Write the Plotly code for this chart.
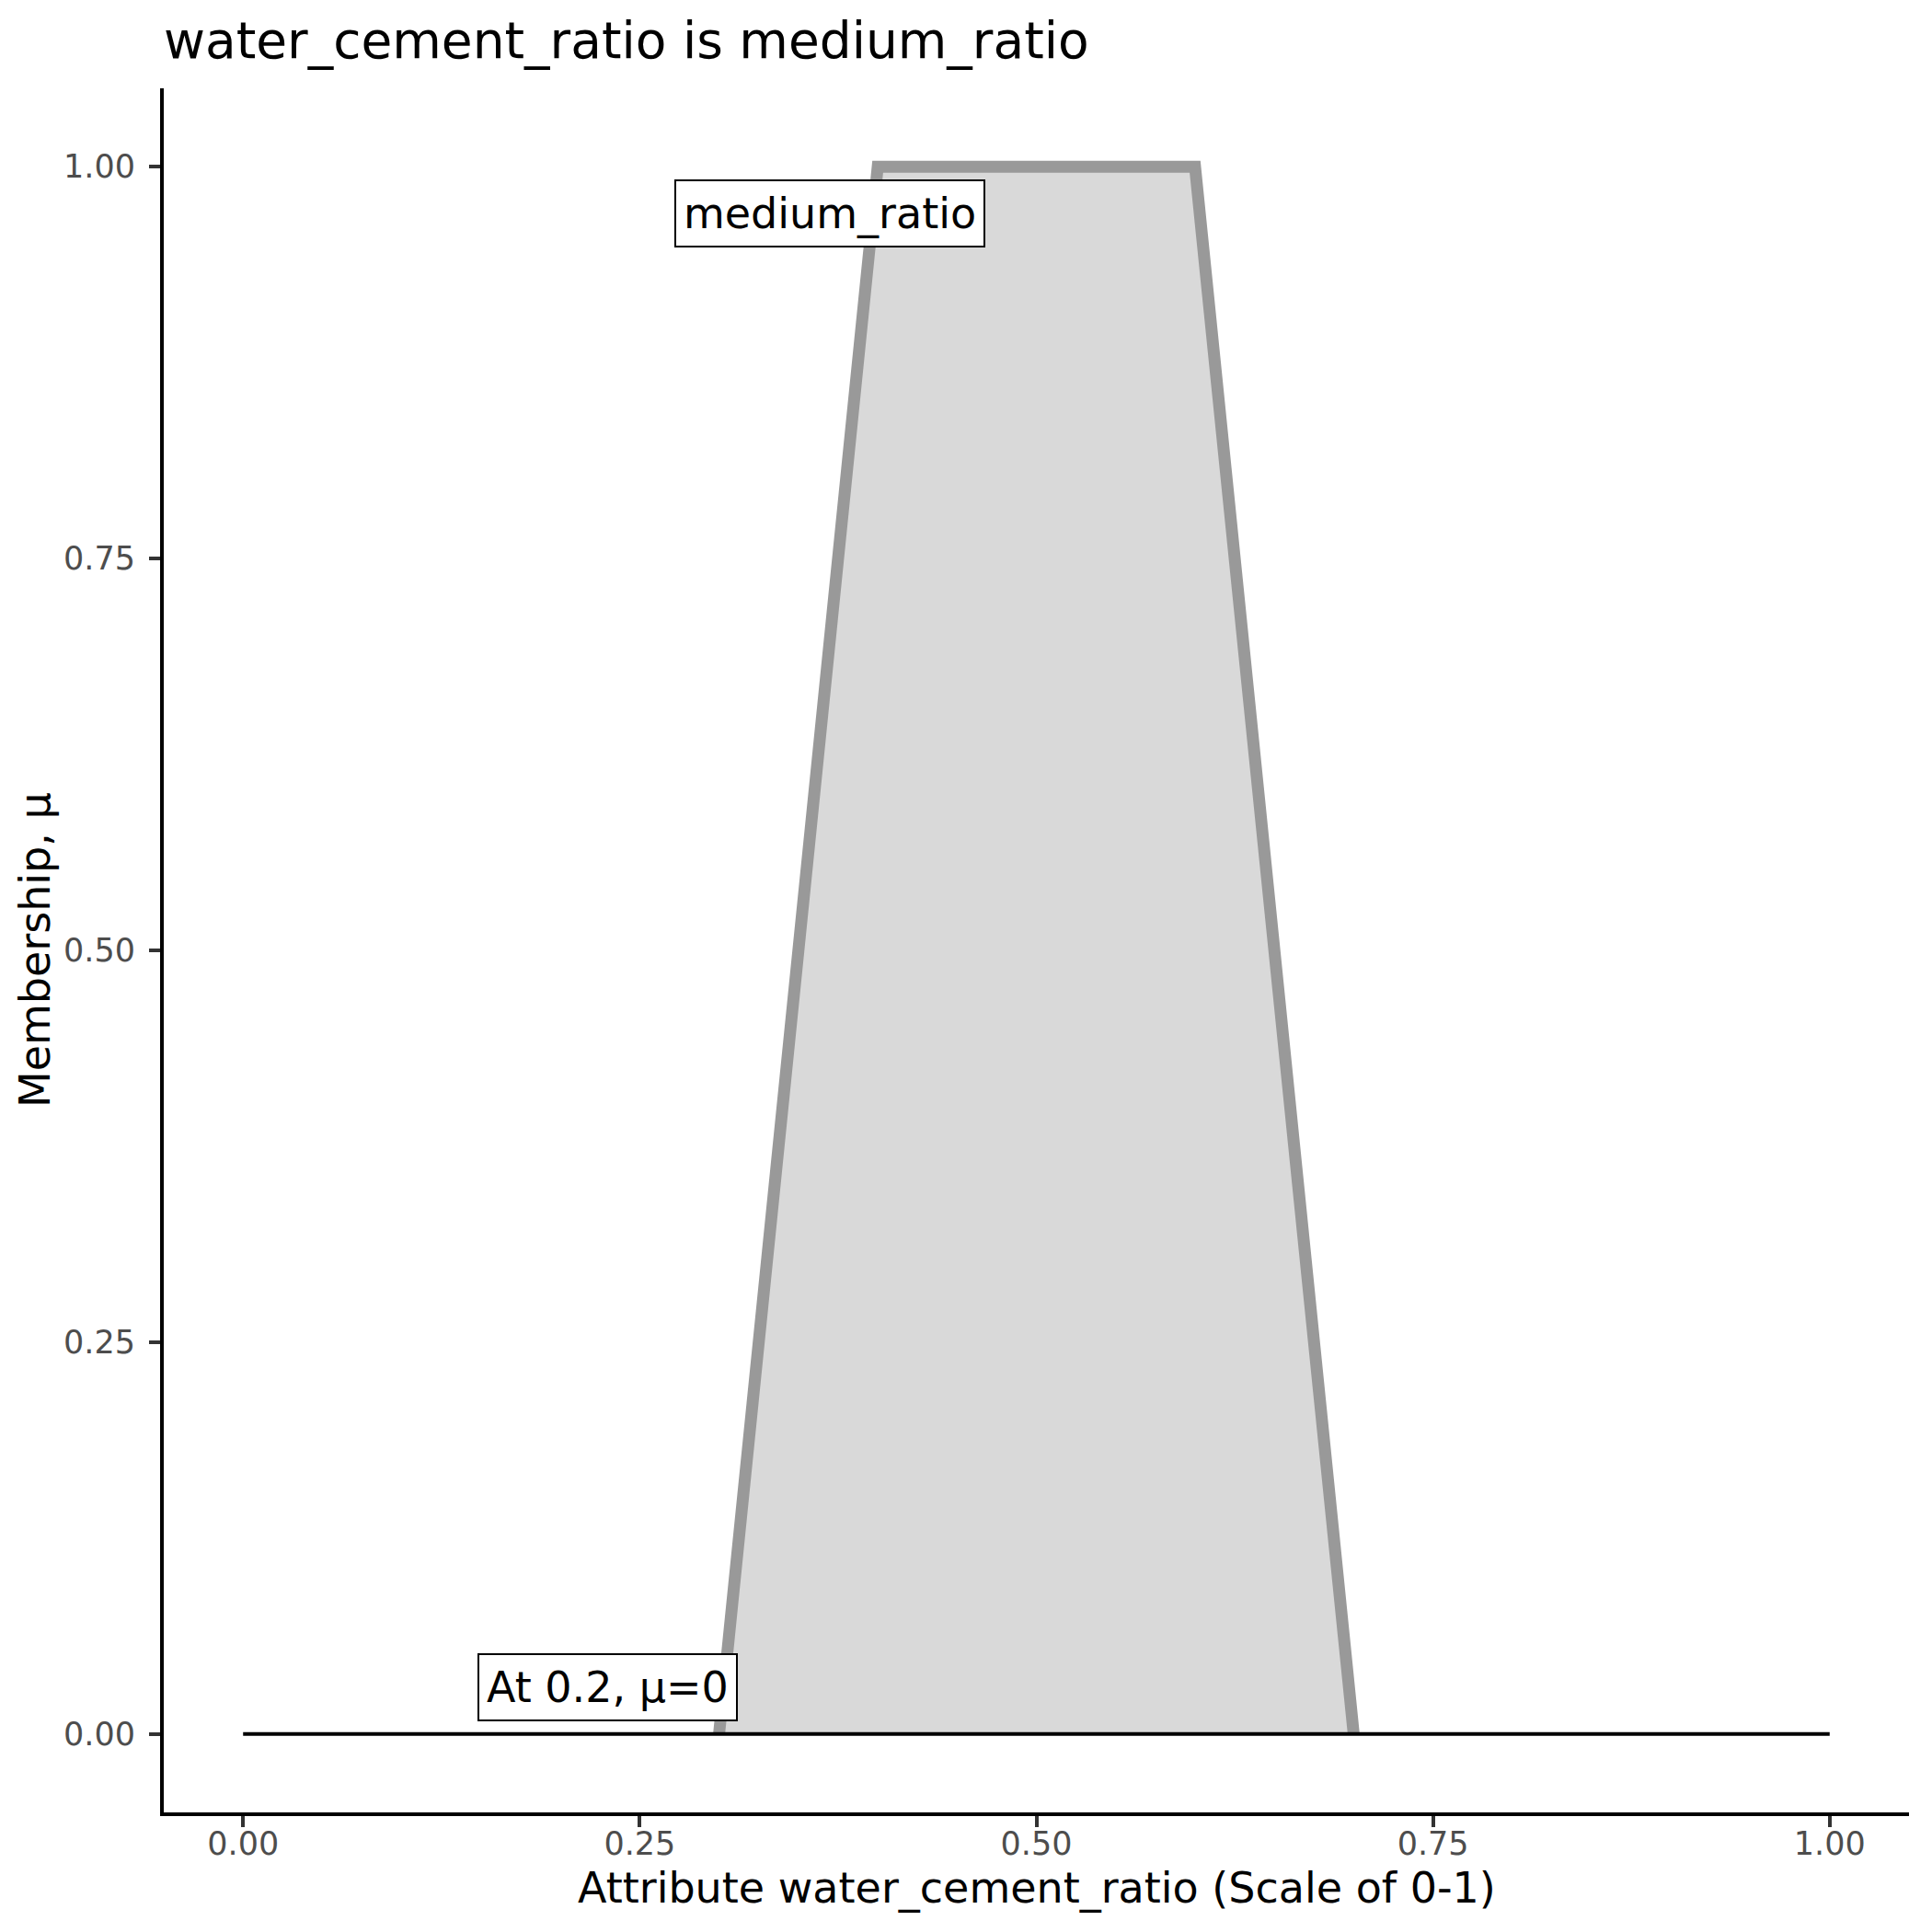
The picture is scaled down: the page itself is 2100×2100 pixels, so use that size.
import plotly.graph_objects as go

# Data
shape_x = [0.3, 0.4, 0.6, 0.7]
shape_y = [0.0, 1.0, 1.0, 0.0]
base_x = [0.0, 1.0]
base_y = [0.0, 0.0]
tick_vals = [0.0, 0.25, 0.5, 0.75, 1.0]
tick_text = ["0.00", "0.25", "0.50", "0.75", "1.00"]
label_texts = ["medium_ratio", "At 0.2, μ=0"]
label_x = [0.37, 0.23]
label_y = [0.97, 0.03]

title_text = "water_cement_ratio is medium_ratio"
x_title = "Attribute water_cement_ratio (Scale of 0-1)"
y_title = "Membership, μ"

FONT = "DejaVu Sans"
OFF = 8  # page body margin
W = H = 2100 - OFF
ML, MR, MT, MB = 178 - OFF, 25, 96 - OFF, 130

fig = go.Figure()
# filled area (no outline)
fig.add_trace(go.Scatter(
    x=shape_x, y=shape_y,
    mode="lines", fill="toself", fillcolor="#D9D9D9",
    line=dict(color="rgba(0,0,0,0)", width=0), hoverinfo="skip", showlegend=False))
# outline path
fig.add_trace(go.Scatter(
    x=shape_x, y=shape_y, mode="lines",
    line=dict(color="#999999", width=13), hoverinfo="skip", showlegend=False))
fig.add_trace(go.Scatter(
    x=base_x, y=base_y, mode="lines",
    line=dict(color="black", width=4), showlegend=False))

annotations = []
for t, xx, yy in zip(label_texts, label_x, label_y):
    annotations.append(dict(
        x=xx, y=yy, xref="x", yref="y", text=t, showarrow=False,
        font=dict(family=FONT, size=46, color="black"),
        bgcolor="white", bordercolor="black", borderwidth=2, borderpad=8,
        xanchor="center", yanchor="middle"))

annotations.append(dict(
    x=0.5, y=0, xref="paper", yref="paper", text=x_title, showarrow=False,
    font=dict(family=FONT, size=46, color="black"),
    xanchor="center", yanchor="middle", yshift=-82))
annotations.append(dict(
    x=0, y=0.5, xref="paper", yref="paper", text=y_title, showarrow=False,
    font=dict(family=FONT, size=46, color="black"), textangle=-90,
    xanchor="center", yanchor="middle", xshift=-140))

axis_common = dict(
    showgrid=False, zeroline=False, showline=True, linecolor="black", linewidth=4,
    ticks="outside", ticklen=12, tickwidth=4, tickcolor="#333333",
    tickfont=dict(family=FONT, size=35, color="#4D4D4D"),
    tickvals=tick_vals, ticktext=tick_text)

fig.update_layout(
    width=W, height=H,
    margin=dict(l=ML, r=MR, t=MT, b=MB),
    plot_bgcolor="white", paper_bgcolor="white",
    title=dict(text=title_text, x=ML / W, xref="container", xanchor="left",
               y=1 - (44 - OFF) / H, yref="container", yanchor="middle",
               font=dict(family=FONT, size=55, color="black")),
    xaxis=dict(range=[-0.05, 1.05], ticklabelstandoff=-12, **axis_common),
    yaxis=dict(range=[-0.05, 1.05], ticklabelstandoff=8, **axis_common),
    annotations=annotations,
    showlegend=False,
)

fig.write_html("out.html")
